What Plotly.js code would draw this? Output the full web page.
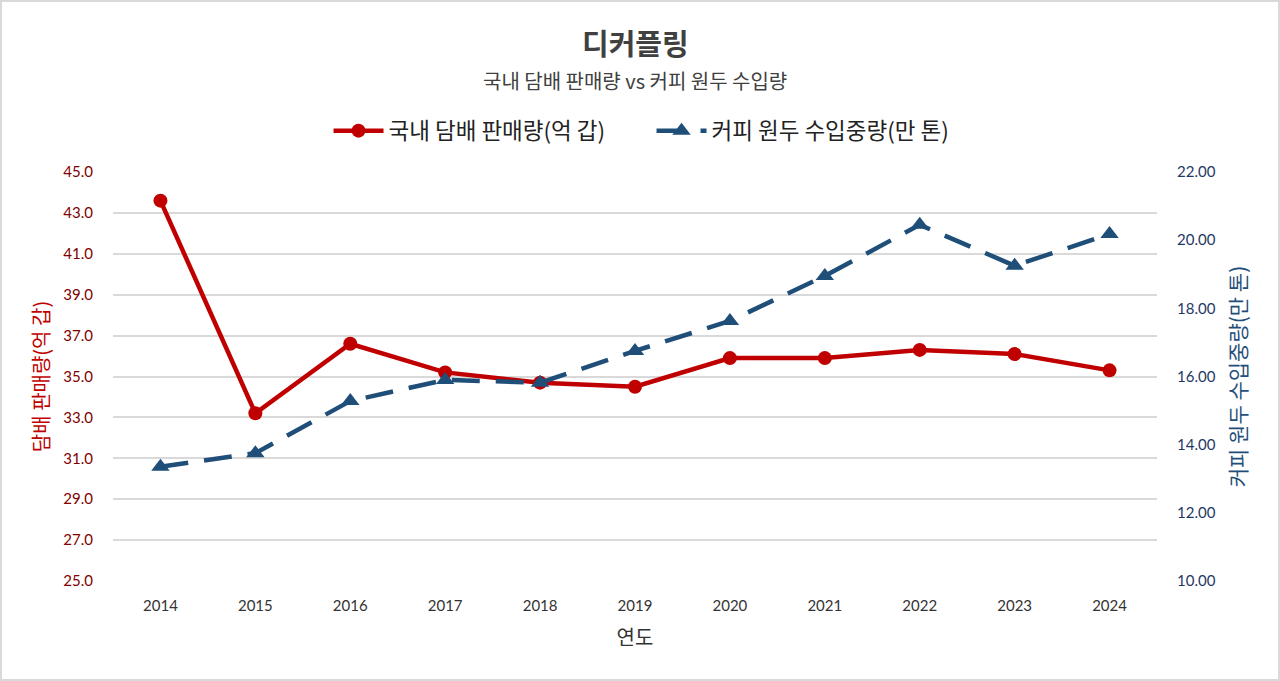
<!DOCTYPE html>
<html>
<head>
<meta charset="utf-8">
<script src="https://cdn.plot.ly/plotly-3.0.1.min.js"></script>
<style>
html,body{margin:0;padding:0;background:#fff;}
#wrap{position:relative;width:1280px;height:681px;}
#chart{width:1280px;height:681px;}
#frame{position:absolute;left:0;top:0;width:1280px;height:681px;box-sizing:border-box;border:2px solid #d9d9d9;pointer-events:none;}
</style>
</head>
<body>
<div id="wrap"><div id="chart"></div><div id="frame"></div></div>
<script>
const years = ['2014','2015','2016','2017','2018','2019','2020','2021','2022','2023','2024'];
const cigaretteSales = [43.6, 33.2, 36.6, 35.2, 34.7, 34.5, 35.9, 35.9, 36.3, 36.1, 35.3];
const coffeeImports = [13.35, 13.75, 15.28, 15.9, 15.82, 16.75, 17.63, 18.95, 20.45, 19.25, 20.18];
const seriesNames = ['국내 담배 판매량(억 갑)', '커피 원두 수입중량(만 톤)'];

const KR = '"Noto Sans CJK KR", "Noto Sans", sans-serif';
const NUM = 'Lato, "Noto Sans CJK KR", sans-serif';

const traces = [
  {
    x: years, y: cigaretteSales, name: seriesNames[0], type: 'scatter', mode: 'lines+markers',
    yaxis: 'y',
    line: {color: '#c00000', width: 4.5},
    marker: {symbol: 'circle', size: 14, color: '#c00000'}
  },
  {
    x: years, y: coffeeImports, name: seriesNames[1], type: 'scatter', mode: 'lines+markers',
    yaxis: 'y2',
    line: {color: '#1f4e79', width: 4.5, dash: '28px,16px'},
    marker: {symbol: 'triangle-up', size: 16, color: '#1f4e79'}
  }
];

const layout = {
  width: 1280, height: 681,
  margin: {l: 113, r: 123, t: 172, b: 100},
  paper_bgcolor: '#fff', plot_bgcolor: '#fff',
  showlegend: true,
  legend: {
    orientation: 'h', x: 0.509, xref: 'container', xanchor: 'center',
    y: 1 - 131 / 681, yref: 'container', yanchor: 'middle',
    font: {family: KR, size: 22.5, color: '#222'},
    itemwidth: 50, tracegroupgap: 0, entrywidth: 258
  },
  xaxis: {
    type: 'category', range: [-0.5, 10.5],
    showgrid: false, zeroline: false, showline: false,
    ticks: 'outside', ticklen: 11, tickcolor: 'rgba(0,0,0,0)',
    tickfont: {family: NUM, size: 15, color: '#333'},
    title: {text: '연도', font: {family: KR, size: 20, color: '#333'}, standoff: 17}
  },
  yaxis: {
    range: [25, 45], dtick: 2, tick0: 25, tickformat: '.1f',
    showgrid: true, gridcolor: '#d9d9d9', gridwidth: 1.5,
    zeroline: false, showline: false,
    ticks: 'outside', ticklen: 16, tickcolor: 'rgba(0,0,0,0)',
    tickfont: {family: NUM, size: 15, color: '#7f0000'},
    title: {text: '담배 판매량(억 갑)', font: {family: KR, size: 20, color: '#c00000'}, standoff: 8}
  },
  yaxis2: {
    overlaying: 'y', side: 'right',
    range: [10, 22], dtick: 2, tick0: 10, tickformat: '.2f',
    showgrid: false, zeroline: false, showline: false,
    ticks: 'outside', ticklen: 16, tickcolor: 'rgba(0,0,0,0)',
    tickfont: {family: NUM, size: 15, color: '#1f3864'},
    title: {text: '커피 원두 수입중량(만 톤)', font: {family: KR, size: 21, color: '#1f4e79'}, standoff: 16}
  },
  annotations: [
    {text: '<b>디커플링</b>', xref: 'paper', yref: 'paper', x: 0.5, y: (581 - 42) / 409, yanchor: 'middle',
     showarrow: false, font: {family: KR, size: 29, color: '#404040'}},
    {text: '국내 담배 판매량 vs 커피 원두 수입량', xref: 'paper', yref: 'paper', x: 0.5, y: (581 - 80) / 409, yanchor: 'middle',
     showarrow: false, font: {family: KR, size: 20, color: '#404040'}}
  ]
};

Plotly.newPlot('chart', traces, layout, {displayModeBar: false, responsive: false});
</script>
</body>
</html>
